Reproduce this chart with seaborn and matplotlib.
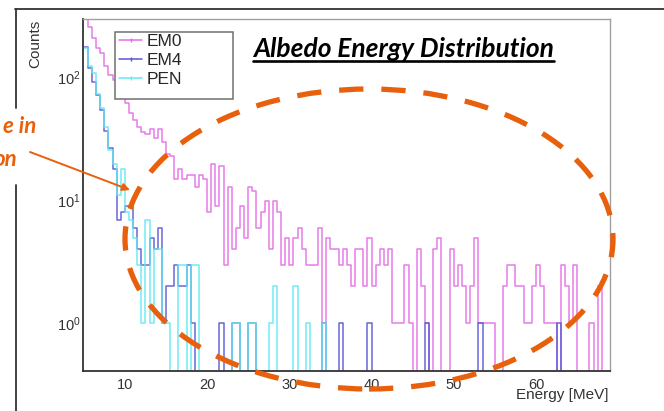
"""
Albedo energy distribution - ROOT style step histograms (EM0 / EM4 / PEN)
with the slide annotations (title, dashed highlight ellipse, arrow).
Saves out.png at 664x411.
"""

import numpy as np
import pandas as pd
import matplotlib
matplotlib.use('Agg')
import matplotlib.pyplot as plt
from matplotlib.patches import Ellipse, Rectangle
from matplotlib.lines import Line2D
from matplotlib.ticker import MultipleLocator, FixedLocator, NullFormatter, LogFormatterSciNotation
import seaborn as sns

# ── Binning: 0.5 MeV bins from 5 to 69 MeV ───────────────────────────────────
BIN_LO, BIN_HI, BIN_W = 5.0, 69.0, 0.5

# ── Counts per bin (128 bins each) ────────────────────────────────────────────
em0_counts = [
    350, 260, 210, 175, 160, 125, 105, 95, 82, 70,
    62, 52, 45, 40, 36, 35, 38, 32, 38, 30,
    24, 23, 15, 18, 15, 16, 16, 13, 16, 15,
    8, 20, 9, 19, 3, 13, 4, 6, 9, 5,
    13, 12, 6, 8, 10, 4, 10, 8, 3, 5,
    3, 5, 6, 4, 3, 3, 3, 6, 1, 5,
    4, 4, 3, 4, 3, 2, 4, 4, 2, 5,
    2, 3, 4, 3, 4, 1, 1, 1, 3, 1,
    0, 4, 2, 1, 0, 4, 5, 0, 0, 4,
    2, 3, 2, 1, 2, 5, 1, 1, 1, 1,
    0, 0, 2, 3, 3, 2, 2, 1, 1, 2,
    3, 2, 1, 1, 1, 0, 3, 2, 1, 3,
    0, 0, 0, 1, 0, 2, 0, 0,
]
em4_counts = [
    178, 120, 92, 72, 55, 37, 27, 18, 7, 8,
    9, 9, 6, 4, 3, 3, 5, 4, 6, 1,
    2, 2, 3, 2, 2, 3, 1, 0, 0, 0,
    0, 0, 0, 1, 0, 0, 1, 1, 0, 0,
    1, 1, 0, 0, 0, 0, 0, 0, 0, 0,
    0, 0, 0, 0, 0, 0, 0, 0, 1, 0,
    0, 0, 1, 0, 0, 0, 0, 0, 0, 1,
    0, 0, 0, 0, 0, 0, 0, 0, 0, 0,
    0, 0, 0, 1, 0, 0, 0, 0, 0, 0,
    0, 0, 0, 0, 0, 0, 1, 0, 0, 0,
    0, 0, 0, 0, 0, 0, 0, 0, 0, 0,
    0, 0, 0, 0, 0, 1, 0, 0, 0, 0,
    0, 0, 0, 0, 0, 0, 0, 0,
]
pen_counts = [
    175, 125, 110, 74, 57, 40, 26, 20, 11, 18,
    8, 7, 5, 3, 1, 7, 1, 4, 4, 1,
    1, 0, 0, 3, 3, 0, 3, 3, 0, 0,
    0, 0, 0, 0, 0, 0, 1, 1, 0, 0,
    1, 1, 0, 0, 0, 1, 2, 0, 0, 0,
    0, 2, 0, 0, 1, 0, 0, 0, 1, 0,
    0, 0, 0, 0, 0, 0, 0, 0, 0, 0,
    0, 0, 0, 0, 0, 0, 0, 0, 0, 0,
    0, 0, 0, 0, 0, 0, 0, 0, 0, 0,
    0, 0, 0, 0, 0, 0, 0, 0, 0, 0,
    0, 0, 0, 0, 0, 0, 0, 0, 0, 0,
    0, 0, 0, 0, 0, 0, 0, 0, 0, 0,
    0, 0, 0, 0, 0, 0, 0, 0,
]

series_names  = ["EM0", "EM4", "PEN"]
series_colors = ["#e36ee6", "#5757d6", "#62e9f2"]
x_ticks       = [10, 20, 30, 40, 50, 60]

ORANGE = "#e8600c"
DARK   = "#333333"

# ── Long-form table for seaborn ───────────────────────────────────────────────
centers = np.arange(BIN_LO, BIN_HI, BIN_W) + BIN_W / 2
df = pd.concat([
    pd.DataFrame({"energy": centers, "counts": c, "sample": n})
    for n, c in zip(series_names, [em0_counts, em4_counts, pen_counts])
], ignore_index=True)

# ── Figure ────────────────────────────────────────────────────────────────────
sns.set_style("white")
plt.rcParams['font.family'] = ['Liberation Sans', 'DejaVu Sans']

W, H = 664, 411
fig = plt.figure(figsize=(W / 100, H / 100), dpi=100)
ax = fig.add_axes([83 / W, 40 / H, 527 / W, 352 / H])

for name, color in zip(series_names, series_colors):
    sns.histplot(data=df[df["sample"] == name], x="energy", weights="counts",
                 binwidth=BIN_W, binrange=(BIN_LO, BIN_HI), element="step",
                 fill=False, color=color, linewidth=1.1, alpha=0.9, ax=ax, legend=False)

ax.set_yscale('log')
ax.set_xlim(4.9, 69.0)
ax.set_ylim(0.41, 300)
ax.set_xlabel("")
ax.set_ylabel("")

# ROOT look: ticks inside, light frame top/right
ax.xaxis.set_major_locator(FixedLocator(x_ticks))
ax.xaxis.set_minor_locator(MultipleLocator(2))
ax.yaxis.set_major_locator(FixedLocator([1, 10, 100]))
ax.yaxis.set_major_formatter(LogFormatterSciNotation())
ax.yaxis.set_minor_locator(FixedLocator([m * d for d in (0.1, 1, 10, 100) for m in range(2, 10)]))
ax.yaxis.set_minor_formatter(NullFormatter())
ax.tick_params(axis='x', which='major', direction='in', length=9.5, width=1.0,
               color=DARK, labelcolor=DARK, labelsize=10.5, pad=5)
ax.tick_params(axis='x', which='minor', direction='in', length=5, width=0.9, color=DARK)
ax.tick_params(axis='y', which='major', direction='in', length=13.5, width=1.0,
               color=DARK, labelcolor=DARK, labelsize=10.5, pad=1.5)
ax.tick_params(axis='y', which='minor', direction='in', length=7, width=0.9, color=DARK)
for side in ('left', 'bottom'):
    ax.spines[side].set_color(DARK)
    ax.spines[side].set_linewidth(1.3)
for side in ('top', 'right'):
    ax.spines[side].set_color('#a0a0a0')
    ax.spines[side].set_linewidth(1.0)

# Legend in a wide ROOT-style box
ax.add_patch(Rectangle((32 / 527, 272 / 352), 118 / 527, 67 / 352, transform=ax.transAxes,
                       fill=True, fc='white', ec='#707070', lw=1.1, zorder=5))
handles = [Line2D([], [], color=c, lw=1.1, marker='|', markersize=3) for c in series_colors]
leg = ax.legend(handles, series_names, loc='upper left', bbox_to_anchor=(36 / 527, 337 / 352),
                frameon=False, fontsize=12.5, handlelength=1.35, handletextpad=0.25,
                labelspacing=0.22, borderpad=0, borderaxespad=0)
leg.set_zorder(6)

# Axis titles
fig.text(35 / W, 1 - 20 / H, "Counts", rotation=90, ha='center', va='top',
         fontsize=11, color=DARK)
fig.text(609 / W, 1 - 399 / H, "Energy [MeV]", ha='right', va='baseline',
         fontsize=11, color=DARK)

# Slide frame lines
fig.add_artist(Line2D([15 / W, 1], [1 - 9.5 / H] * 2, color=DARK, lw=1.3))
fig.add_artist(Line2D([16 / W] * 2, [1 - 9.5 / H, 1 - 108 / H], color=DARK, lw=1.3))
fig.add_artist(Line2D([16 / W] * 2, [1 - 185 / H, 0], color=DARK, lw=1.3))

# Title, underlined
title = fig.text(253 / W, 1 - 57 / H, "Albedo Energy Distribution", ha='left', va='baseline',
                 fontsize=19, fontweight='bold', fontstyle='italic',
                 family=['Lato', 'DejaVu Sans'], color='black')
fig.canvas.draw()
bb = title.get_window_extent()
fig.add_artist(Line2D([bb.x0 / W, bb.x1 / W], [1 - 61.5 / H] * 2, color='black', lw=1.9))

# Orange annotations
fig.add_artist(Ellipse((369 / W, 1 - 239 / H), 488 / W, 300 / H, fill=False,
                       ec=ORANGE, lw=3.8, ls=(0, (4.6, 3.4)), zorder=10))
fig.text(36 / W, 1 - 133 / H, "e in", ha='right', va='baseline', color=ORANGE,
         fontsize=16, fontweight='bold', fontstyle='italic', family=['Lato', 'DejaVu Sans'])
fig.text(17 / W, 1 - 166 / H, "on", ha='right', va='baseline', color=ORANGE,
         fontsize=16, fontweight='bold', fontstyle='italic', family=['Lato', 'DejaVu Sans'])
ax.annotate("", xy=(130, H - 190), xytext=(30, H - 152),
            xycoords='figure pixels', textcoords='figure pixels', annotation_clip=False,
            arrowprops=dict(arrowstyle='-|>', color=ORANGE, lw=1.4,
                            mutation_scale=11, shrinkA=0, shrinkB=0))

fig.savefig("out.png", dpi=100)
plt.close(fig)
